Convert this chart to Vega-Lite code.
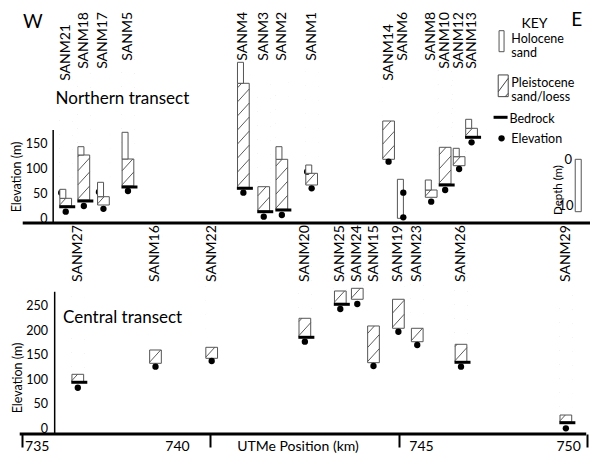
{
"$schema": "https://vega.github.io/schema/vega-lite/v6.json",
"padding": 0,
"spacing": 3,
"bounds": "flush",
"config": {"font": "Lato", "view": {"stroke": null}, "axis": {"grid": false, "labelColor": "#000", "titleColor": "#000", "labelFont": "Lato", "titleFont": "Lato"}},
"datasets": {
"north": [
{"s":"SANM21","e":736.17,"ht":57.4,"hb":39.4,"pt":39.4,"pb":24,"br":22.6,"el":12.6,"el2":50.6},
{"s":"SANM18","e":736.65,"ht":142.6,"hb":126,"pt":126,"pb":36,"br":34,"el":24},
{"s":"SANM17","e":737.17,"ht":71.4,"hb":42.6,"pt":42.6,"pb":26,"el":18.4,"el2":52},
{"s":"SANM5","e":737.82,"ht":171.4,"hb":118,"pt":118,"pb":64,"br":62,"el":54},
{"s":"SANM4","e":740.88,"ht":311.4,"hb":269.4,"pt":269.4,"pb":61.4,"br":59.4,"el":50.6},
{"s":"SANM3","e":741.42,"pt":62.6,"pb":14,"br":12.6,"el":2.6},
{"s":"SANM2","e":741.90,"ht":142.6,"hb":117.4,"pt":117.4,"pb":17.4,"br":16,"el":6},
{"s":"SANM1","e":742.69,"ht":106,"hb":89.4,"pt":89.4,"pb":66,"el":59.4,"el2":92.6},
{"s":"SANM14","e":744.73,"pt":194,"pb":117.4,"el":112.6},
{"s":"SANM6","e":745.12,"ht":77.4,"hb":-0.6,"el":50.6,"el3":1.4},
{"s":"SANM8","e":745.86,"ht":76,"hb":56,"pt":56,"pb":41.4,"el":32.6},
{"s":"SANM10","e":746.23,"pt":141.4,"pb":68,"br":66,"el":56},
{"s":"SANM12","e":746.60,"ht":139.4,"hb":122.6,"pt":122.6,"pb":104.6,"el":98},
{"s":"SANM13","e":746.93,"ht":197.4,"hb":179.4,"pt":179.4,"pb":162.6,"br":161.4,"el":151.4}
],
"central": [
{"s":"SANM27","e":736.49,"pt":109.6,"pb":94.5,"br":93.3,"el":82.2},
{"s":"SANM16","e":738.55,"pt":159.2,"pb":132,"el":125.1},
{"s":"SANM22","e":740.04,"pt":164.7,"pb":142.2,"el":136.7},
{"s":"SANM20","e":742.51,"pt":223.9,"pb":186.3,"br":185.1,"el":176.1},
{"s":"SANM25","e":743.45,"pt":279.6,"pb":254.5,"br":252.4,"el":242.9},
{"s":"SANM24","e":743.90,"pt":285.1,"pb":262.7,"el":253.1},
{"s":"SANM15","e":744.33,"pt":208.2,"pb":133.3,"el":126.5},
{"s":"SANM19","e":744.99,"pt":262.7,"pb":203.5,"el":196.5},
{"s":"SANM23","e":745.49,"pt":203.5,"pb":176.1,"el":169.4},
{"s":"SANM26","e":746.65,"pt":170.8,"pb":135.3,"br":134.1,"el":125.1},
{"s":"SANM29","e":749.43,"pt":26.5,"pb":12.2,"br":10.8,"el":-0.6}
]
},
"vconcat": [
{
"width": 595, "height": 223,
"data": {"name": "north"},
"layer": [
{"data": {"values": [{}]}, "mark": {"type": "rule", "strokeWidth": 1.5, "color": "#000"},
 "encoding": {
  "x": {"datum": 735.837, "type": "quantitative", "scale": {"domain": [734.56, 750.07], "nice": false, "zero": false}, "axis": null},
  "y": {"datum": -10, "type": "quantitative", "scale": {"domain": [-10, 436], "nice": false, "zero": false},
        "axis": {"values": [0, 50, 100, 150], "domain": false, "ticks": false, "labels": true, "labelPadding": 2, "labelFontSize": 12.5, "offset": -49, "title": "Elevation (m)", "titleFontSize": 12.5, "titleFontWeight": "normal", "titleX": -32.3, "titleY": 176.5, "titleAlign": "center", "titleBaseline": "middle", "titleAngle": 270}},
  "y2": {"datum": 176}}},
{"data": {"values": [{}]}, "mark": {"type": "rule", "strokeWidth": 3, "color": "#000"},
 "encoding": {
  "x": {"datum": 735.03, "type": "quantitative", "scale": {"domain": [734.56, 750.07], "nice": false, "zero": false}, "axis": null},
  "x2": {"datum": 750.07},
  "y": {"datum": -10, "type": "quantitative", "scale": {"domain": [-10, 436], "nice": false, "zero": false}}}},
{"transform": [{"filter": "isValid(datum.pt)"}],
 "mark": {"type": "point", "shape": "M-1,-0.2L1,-2.4M-1,-2.6L1,-4.8M-1,-5L1,-7.2M-1,-7.4L1,-9.6M-1,-9.8L1,-12M-1,-12.2L1,-14.4M-1,-14.6L1,-16.8M-1,-17L1,-19.2M-1,-19.4L1,-21.6", "size": 137, "filled": false, "stroke": "#333", "strokeWidth": 0.8, "opacity": 1, "clip": true},
 "encoding": {
  "x": {"field": "e", "type": "quantitative", "scale": {"domain": [734.56, 750.07], "nice": false, "zero": false}, "axis": null},
  "y": {"field": "pb", "type": "quantitative", "scale": {"domain": [-10, 436], "nice": false, "zero": false}}}},
{"transform": [{"filter": "isValid(datum.pt)"}],
 "mark": {"type": "bar", "size": 13, "fill": "#fff", "strokeWidth": 0},
 "encoding": {
  "x": {"field": "e", "type": "quantitative", "scale": {"domain": [734.56, 750.07], "nice": false, "zero": false}, "axis": null},
  "y": {"field": "pt", "type": "quantitative", "scale": {"domain": [-10, 436], "nice": false, "zero": false}},
  "y2": {"datum": 436}}},
{"transform": [{"filter": "isValid(datum.el2)"}],
 "mark": {"type": "point", "filled": true, "size": 40, "color": "#000", "opacity": 1, "xOffset": -4.5},
 "encoding": {
  "x": {"field": "e", "type": "quantitative", "scale": {"domain": [734.56, 750.07], "nice": false, "zero": false}, "axis": null},
  "y": {"field": "el2", "type": "quantitative", "scale": {"domain": [-10, 436], "nice": false, "zero": false}}}},
{"transform": [{"filter": "isValid(datum.pt)"}],
 "mark": {"type": "bar", "size": 11.7, "fill": "transparent", "stroke": "#555", "strokeWidth": 1},
 "encoding": {
  "x": {"field": "e", "type": "quantitative", "scale": {"domain": [734.56, 750.07], "nice": false, "zero": false}, "axis": null},
  "y": {"field": "pt", "type": "quantitative", "scale": {"domain": [-10, 436], "nice": false, "zero": false}},
  "y2": {"field": "pb"}}},
{"transform": [{"filter": "isValid(datum.ht)"}],
 "mark": {"type": "bar", "size": 6, "xOffset": -2.9, "fill": "#fff", "stroke": "#555", "strokeWidth": 1},
 "encoding": {
  "x": {"field": "e", "type": "quantitative", "scale": {"domain": [734.56, 750.07], "nice": false, "zero": false}, "axis": null},
  "y": {"field": "ht", "type": "quantitative", "scale": {"domain": [-10, 436], "nice": false, "zero": false}},
  "y2": {"field": "hb"}}},
{"transform": [{"filter": "isValid(datum.br)"}],
 "mark": {"type": "tick", "orient": "horizontal", "size": 16, "thickness": 3, "xOffset": 1.5, "color": "#000", "opacity": 1},
 "encoding": {
  "x": {"field": "e", "type": "quantitative", "scale": {"domain": [734.56, 750.07], "nice": false, "zero": false}, "axis": null},
  "y": {"field": "br", "type": "quantitative", "scale": {"domain": [-10, 436], "nice": false, "zero": false}}}},
{"transform": [{"filter": "isValid(datum.el)"}],
 "mark": {"type": "point", "filled": true, "size": 40, "color": "#000", "opacity": 1},
 "encoding": {
  "x": {"field": "e", "type": "quantitative", "scale": {"domain": [734.56, 750.07], "nice": false, "zero": false}, "axis": null},
  "y": {"field": "el", "type": "quantitative", "scale": {"domain": [-10, 436], "nice": false, "zero": false}}}},
{"transform": [{"filter": "isValid(datum.el3)"}],
 "mark": {"type": "point", "filled": true, "size": 40, "color": "#000", "opacity": 1},
 "encoding": {
  "x": {"field": "e", "type": "quantitative", "scale": {"domain": [734.56, 750.07], "nice": false, "zero": false}, "axis": null},
  "y": {"field": "el3", "type": "quantitative", "scale": {"domain": [-10, 436], "nice": false, "zero": false}}}},
{"transform": [{"filter": "datum.s != 'SANM21' && datum.s != 'SANM14'"}],
 "mark": {"type": "text", "angle": 270, "align": "right", "baseline": "middle", "fontSize": 14, "color": "#000"},
 "encoding": {
  "x": {"field": "e", "type": "quantitative", "scale": {"domain": [734.56, 750.07], "nice": false, "zero": false}, "axis": null},
  "y": {"datum": 412, "type": "quantitative", "scale": {"domain": [-10, 436], "nice": false, "zero": false}},
  "text": {"field": "s"}}},
{"transform": [{"filter": "datum.s == 'SANM21' || datum.s == 'SANM14'"}],
 "mark": {"type": "text", "angle": 270, "align": "right", "baseline": "middle", "fontSize": 14, "color": "#000"},
 "encoding": {
  "x": {"field": "e", "type": "quantitative", "scale": {"domain": [734.56, 750.07], "nice": false, "zero": false}, "axis": null},
  "y": {"datum": 388, "type": "quantitative", "scale": {"domain": [-10, 436], "nice": false, "zero": false}},
  "text": {"field": "s"}}},
{"data": {"values": [{}]}, "mark": {"type": "text", "text": "Northern transect", "align": "left", "baseline": "middle", "fontSize": 17, "color": "#000"},
 "encoding": {
  "x": {"datum": 735.90, "type": "quantitative", "scale": {"domain": [734.56, 750.07], "nice": false, "zero": false}, "axis": null},
  "y": {"datum": 238, "type": "quantitative", "scale": {"domain": [-10, 436], "nice": false, "zero": false}}}},
{"data": {"values": [{}]}, "mark": {"type": "text", "text": "W", "align": "left", "baseline": "middle", "fontSize": 19, "color": "#000"},
 "encoding": {
  "x": {"datum": 735.037, "type": "quantitative", "scale": {"domain": [734.56, 750.07], "nice": false, "zero": false}, "axis": null},
  "y": {"datum": 392.6, "type": "quantitative", "scale": {"domain": [-10, 436], "nice": false, "zero": false}}}},
{"data": {"values": [{}]}, "mark": {"type": "text", "text": "E", "align": "center", "baseline": "middle", "fontSize": 19, "color": "#000"},
 "encoding": {
  "x": {"datum": 749.72, "type": "quantitative", "scale": {"domain": [734.56, 750.07], "nice": false, "zero": false}, "axis": null},
  "y": {"datum": 396, "type": "quantitative", "scale": {"domain": [-10, 436], "nice": false, "zero": false}}}},
{"data": {"values": [{}]}, "mark": {"type": "text", "text": "KEY", "align": "center", "baseline": "middle", "fontSize": 14, "color": "#000"},
 "encoding": {
  "x": {"datum": 748.598, "type": "quantitative", "scale": {"domain": [734.56, 750.07], "nice": false, "zero": false}, "axis": null},
  "y": {"datum": 388, "type": "quantitative", "scale": {"domain": [-10, 436], "nice": false, "zero": false}}}},
{"data": {"values": [{}]}, "mark": {"type": "bar", "size": 5, "fill": "#fff", "stroke": "#555", "strokeWidth": 1},
 "encoding": {
  "x": {"datum": 747.725, "type": "quantitative", "scale": {"domain": [734.56, 750.07], "nice": false, "zero": false}, "axis": null},
  "y": {"datum": 374.6, "type": "quantitative", "scale": {"domain": [-10, 436], "nice": false, "zero": false}},
  "y2": {"datum": 332.6}}},
{"data": {"values": [{}]}, "mark": {"type": "text", "text": "Holocene", "align": "left", "baseline": "alphabetic", "fontSize": 12.5, "color": "#000"},
 "encoding": {
  "x": {"datum": 747.985, "type": "quantitative", "scale": {"domain": [734.56, 750.07], "nice": false, "zero": false}, "axis": null},
  "y": {"datum": 350, "type": "quantitative", "scale": {"domain": [-10, 436], "nice": false, "zero": false}}}},
{"data": {"values": [{}]}, "mark": {"type": "text", "text": "sand", "align": "left", "baseline": "alphabetic", "fontSize": 12.5, "color": "#000"},
 "encoding": {
  "x": {"datum": 747.985, "type": "quantitative", "scale": {"domain": [734.56, 750.07], "nice": false, "zero": false}, "axis": null},
  "y": {"datum": 322, "type": "quantitative", "scale": {"domain": [-10, 436], "nice": false, "zero": false}}}},
{"data": {"values": [{}]}, "mark": {"type": "point", "shape": "M-1,-2.17H1V2.17H-1ZM-1,1.2L1,-1.5M0.4,2.17L1,1.5", "size": 100, "filled": false, "stroke": "#444", "strokeWidth": 1, "opacity": 1},
 "encoding": {
  "x": {"datum": 747.769, "type": "quantitative", "scale": {"domain": [734.56, 750.07], "nice": false, "zero": false}, "axis": null},
  "y": {"datum": 264.4, "type": "quantitative", "scale": {"domain": [-10, 436], "nice": false, "zero": false}}}},
{"data": {"values": [{}]}, "mark": {"type": "text", "text": "Pleistocene", "align": "left", "baseline": "alphabetic", "fontSize": 12.5, "color": "#000"},
 "encoding": {
  "x": {"datum": 747.985, "type": "quantitative", "scale": {"domain": [734.56, 750.07], "nice": false, "zero": false}, "axis": null},
  "y": {"datum": 263, "type": "quantitative", "scale": {"domain": [-10, 436], "nice": false, "zero": false}}}},
{"data": {"values": [{}]}, "mark": {"type": "text", "text": "sand/loess", "align": "left", "baseline": "alphabetic", "fontSize": 12.5, "color": "#000"},
 "encoding": {
  "x": {"datum": 747.985, "type": "quantitative", "scale": {"domain": [734.56, 750.07], "nice": false, "zero": false}, "axis": null},
  "y": {"datum": 235, "type": "quantitative", "scale": {"domain": [-10, 436], "nice": false, "zero": false}}}},
{"data": {"values": [{}]}, "mark": {"type": "tick", "orient": "horizontal", "size": 14, "thickness": 3, "color": "#000", "opacity": 1},
 "encoding": {
  "x": {"datum": 747.699, "type": "quantitative", "scale": {"domain": [734.56, 750.07], "nice": false, "zero": false}, "axis": null},
  "y": {"datum": 201.4, "type": "quantitative", "scale": {"domain": [-10, 436], "nice": false, "zero": false}}}},
{"data": {"values": [{}]}, "mark": {"type": "text", "text": "Bedrock", "align": "left", "baseline": "alphabetic", "fontSize": 12.5, "color": "#000"},
 "encoding": {
  "x": {"datum": 747.933, "type": "quantitative", "scale": {"domain": [734.56, 750.07], "nice": false, "zero": false}, "axis": null},
  "y": {"datum": 190, "type": "quantitative", "scale": {"domain": [-10, 436], "nice": false, "zero": false}}}},
{"data": {"values": [{}]}, "mark": {"type": "point", "filled": true, "size": 40, "color": "#000", "opacity": 1},
 "encoding": {
  "x": {"datum": 747.725, "type": "quantitative", "scale": {"domain": [734.56, 750.07], "nice": false, "zero": false}, "axis": null},
  "y": {"datum": 159.4, "type": "quantitative", "scale": {"domain": [-10, 436], "nice": false, "zero": false}}}},
{"data": {"values": [{}]}, "mark": {"type": "text", "text": "Elevation", "align": "left", "baseline": "alphabetic", "fontSize": 12.5, "color": "#000"},
 "encoding": {
  "x": {"datum": 747.985, "type": "quantitative", "scale": {"domain": [734.56, 750.07], "nice": false, "zero": false}, "axis": null},
  "y": {"datum": 150, "type": "quantitative", "scale": {"domain": [-10, 436], "nice": false, "zero": false}}}},
{"data": {"values": [{}]}, "mark": {"type": "bar", "size": 6, "fill": "#fff", "stroke": "#555", "strokeWidth": 1},
 "encoding": {
  "x": {"datum": 749.758, "type": "quantitative", "scale": {"domain": [734.56, 750.07], "nice": false, "zero": false}, "axis": null},
  "y": {"datum": 117.4, "type": "quantitative", "scale": {"domain": [-10, 436], "nice": false, "zero": false}},
  "y2": {"datum": 12.6}}},
{"data": {"values": [{}]}, "mark": {"type": "text", "text": "0", "align": "right", "baseline": "middle", "fontSize": 13, "color": "#000"},
 "encoding": {
  "x": {"datum": 749.594, "type": "quantitative", "scale": {"domain": [734.56, 750.07], "nice": false, "zero": false}, "axis": null},
  "y": {"datum": 116, "type": "quantitative", "scale": {"domain": [-10, 436], "nice": false, "zero": false}}}},
{"data": {"values": [{}]}, "mark": {"type": "text", "text": "10", "align": "right", "baseline": "middle", "fontSize": 13, "color": "#000"},
 "encoding": {
  "x": {"datum": 749.636, "type": "quantitative", "scale": {"domain": [734.56, 750.07], "nice": false, "zero": false}, "axis": null},
  "y": {"datum": 24.2, "type": "quantitative", "scale": {"domain": [-10, 436], "nice": false, "zero": false}}}},
{"data": {"values": [{}]}, "mark": {"type": "text", "text": "Depth (m)", "angle": 270, "align": "center", "baseline": "middle", "fontSize": 11.5, "color": "#000"},
 "encoding": {
  "x": {"datum": 749.25, "type": "quantitative", "scale": {"domain": [734.56, 750.07], "nice": false, "zero": false}, "axis": null},
  "y": {"datum": 56, "type": "quantitative", "scale": {"domain": [-10, 436], "nice": false, "zero": false}}}}
]
},
{
"width": 595, "height": 208,
"data": {"name": "central"},
"layer": [
{"data": {"values": [{}]}, "mark": {"type": "rule", "strokeWidth": 1.5, "color": "#000"},
 "encoding": {
  "x": {"datum": 735.877, "type": "quantitative", "scale": {"domain": [734.56, 750.07], "nice": false, "zero": false}},
  "y": {"datum": -12.24, "type": "quantitative", "scale": {"domain": [-12.24, 412.24], "nice": false, "zero": false},
        "axis": {"values": [0, 50, 100, 150, 200, 250], "domain": false, "ticks": false, "labels": true, "labelPadding": 3, "labelFontSize": 12.5, "offset": -50.5, "title": "Elevation (m)", "titleFontSize": 12.5, "titleFontWeight": "normal", "titleX": -33, "titleY": 151.5, "titleAlign": "center", "titleBaseline": "middle", "titleAngle": 270}},
  "y2": {"datum": 278}}},
{"data": {"values": [{}]}, "mark": {"type": "rule", "strokeWidth": 3, "color": "#000"},
 "encoding": {
  "x": {"datum": 734.95, "type": "quantitative", "scale": {"domain": [734.56, 750.07], "nice": false, "zero": false},
        "axis": {"values": [735, 740, 745, 750], "format": "d", "domain": false, "ticks": true, "labels": true, "tickSize": 13, "tickWidth": 2, "tickColor": "#000", "labelFontSize": 14, "labelBaseline": "top", "labelPadding": -8, "labelFlush": false, "labelOverlap": false,
                 "labelAlign": {"condition": {"test": "datum.value == 740 || datum.value == 750", "value": "right"}, "value": "left"},
                 "labelOffset": {"condition": [{"test": "datum.value == 740", "value": -21}, {"test": "datum.value == 745", "value": 10}, {"test": "datum.value == 750", "value": -7}], "value": 3},
                 "title": "UTMe Position (km)", "titleFontSize": 14, "titleFontWeight": "normal", "titleY": 5, "titleBaseline": "top"}},
  "x2": {"datum": 749.97},
  "y": {"datum": -12.24, "type": "quantitative", "scale": {"domain": [-12.24, 412.24], "nice": false, "zero": false}}}},
{"transform": [{"filter": "isValid(datum.pt)"}],
 "mark": {"type": "point", "shape": "M-1,-0.2L1,-2.4M-1,-2.6L1,-4.8M-1,-5L1,-7.2M-1,-7.4L1,-9.6M-1,-9.8L1,-12M-1,-12.2L1,-14.4M-1,-14.6L1,-16.8M-1,-17L1,-19.2M-1,-19.4L1,-21.6", "size": 137, "filled": false, "stroke": "#333", "strokeWidth": 0.8, "opacity": 1, "clip": true},
 "encoding": {
  "x": {"field": "e", "type": "quantitative", "scale": {"domain": [734.56, 750.07], "nice": false, "zero": false}},
  "y": {"field": "pb", "type": "quantitative", "scale": {"domain": [-12.24, 412.24], "nice": false, "zero": false}}}},
{"transform": [{"filter": "isValid(datum.pt)"}],
 "mark": {"type": "bar", "size": 13, "fill": "#fff", "strokeWidth": 0},
 "encoding": {
  "x": {"field": "e", "type": "quantitative", "scale": {"domain": [734.56, 750.07], "nice": false, "zero": false}},
  "y": {"field": "pt", "type": "quantitative", "scale": {"domain": [-12.24, 412.24], "nice": false, "zero": false}},
  "y2": {"datum": 412.24}}},
{"transform": [{"filter": "isValid(datum.pt)"}],
 "mark": {"type": "bar", "size": 11.7, "fill": "transparent", "stroke": "#555", "strokeWidth": 1},
 "encoding": {
  "x": {"field": "e", "type": "quantitative", "scale": {"domain": [734.56, 750.07], "nice": false, "zero": false}},
  "y": {"field": "pt", "type": "quantitative", "scale": {"domain": [-12.24, 412.24], "nice": false, "zero": false}},
  "y2": {"field": "pb"}}},
{"transform": [{"filter": "isValid(datum.br)"}],
 "mark": {"type": "tick", "orient": "horizontal", "size": 16, "thickness": 3, "xOffset": 1.5, "color": "#000", "opacity": 1},
 "encoding": {
  "x": {"field": "e", "type": "quantitative", "scale": {"domain": [734.56, 750.07], "nice": false, "zero": false}},
  "y": {"field": "br", "type": "quantitative", "scale": {"domain": [-12.24, 412.24], "nice": false, "zero": false}}}},
{"transform": [{"filter": "isValid(datum.el)"}],
 "mark": {"type": "point", "filled": true, "size": 40, "color": "#000", "opacity": 1},
 "encoding": {
  "x": {"field": "e", "type": "quantitative", "scale": {"domain": [734.56, 750.07], "nice": false, "zero": false}},
  "y": {"field": "el", "type": "quantitative", "scale": {"domain": [-12.24, 412.24], "nice": false, "zero": false}}}},
{"mark": {"type": "text", "angle": 270, "align": "left", "baseline": "middle", "fontSize": 14, "color": "#000"},
 "encoding": {
  "x": {"field": "e", "type": "quantitative", "scale": {"domain": [734.56, 750.07], "nice": false, "zero": false}},
  "y": {"datum": 298, "type": "quantitative", "scale": {"domain": [-12.24, 412.24], "nice": false, "zero": false}},
  "text": {"field": "s"}}},
{"data": {"values": [{}]}, "mark": {"type": "text", "text": "Central transect", "align": "left", "baseline": "middle", "fontSize": 17, "color": "#000"},
 "encoding": {
  "x": {"datum": 736.10, "type": "quantitative", "scale": {"domain": [734.56, 750.07], "nice": false, "zero": false}},
  "y": {"datum": 223.5, "type": "quantitative", "scale": {"domain": [-12.24, 412.24], "nice": false, "zero": false}}}}
]
}
]
}
